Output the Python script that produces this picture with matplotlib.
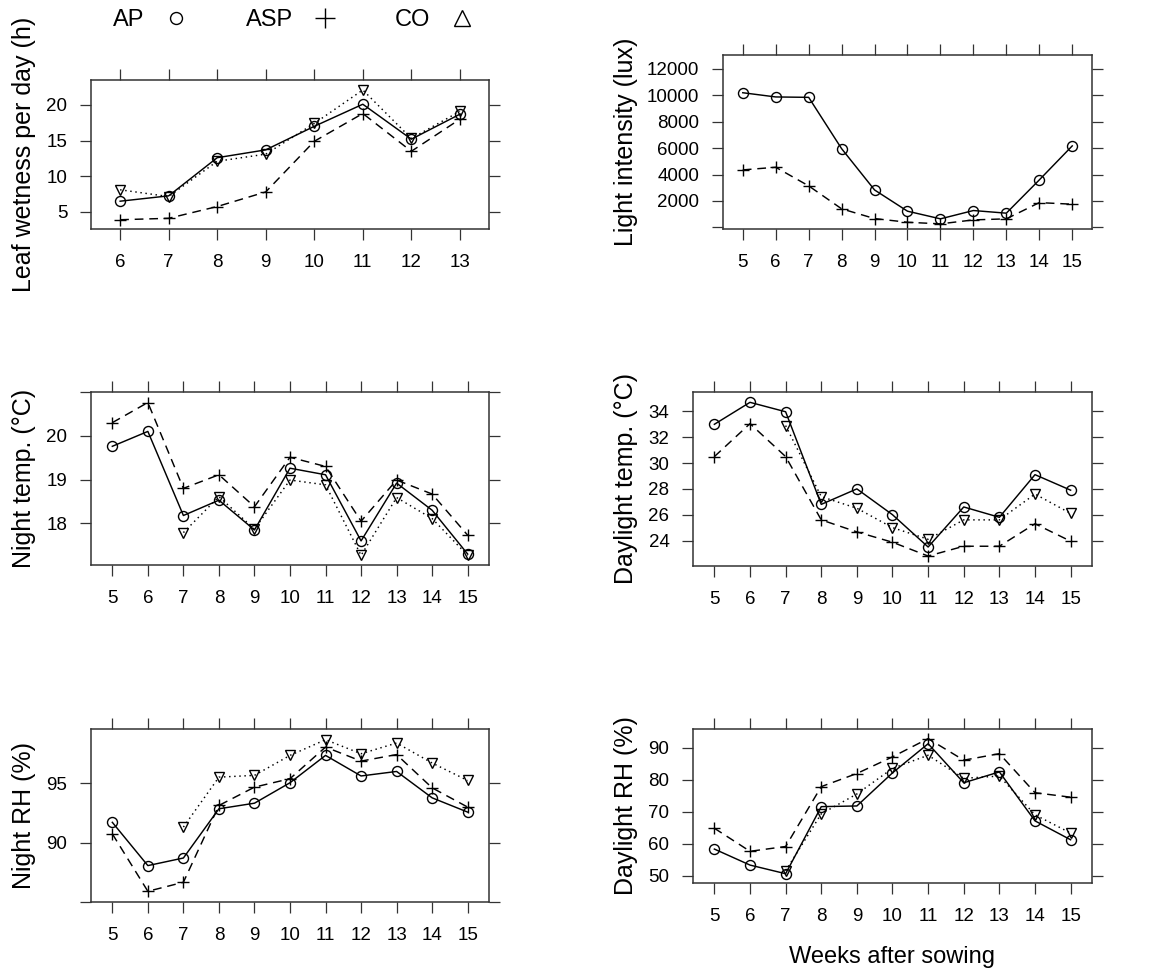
import matplotlib
matplotlib.use("Agg")
import matplotlib.pyplot as plt
from matplotlib.lines import Line2D

plt.rcParams["font.family"] = ["Liberation Sans", "DejaVu Sans"]

# ── Data ───────────────────────────────────────────────────
weeks_wet = [6, 7, 8, 9, 10, 11, 12, 13]
weeks = [5, 6, 7, 8, 9, 10, 11, 12, 13, 14, 15]
weeks_co = [7, 8, 9, 10, 11, 12, 13, 14, 15]

wet_ap = [6.5, 7.25, 12.6, 13.7, 17.0, 20.1, 15.2, 18.7]
wet_asp = [3.9, 4.1, 5.75, 7.8, 14.9, 18.8, 13.5, 18.0]
wet_co = [8.1, 7.15, 12.1, 13.1, 17.4, 22.1, 15.3, 19.1]

lux_ap = [10200, 9880, 9850, 5960, 2830, 1220, 640, 1270, 1070, 3590, 6170]
lux_asp = [4350, 4550, 3140, 1400, 660, 380, 260, 560, 640, 1870, 1750]

ntemp_ap = [19.76, 20.1, 18.18, 18.53, 17.85, 19.26, 19.11, 17.6, 18.92, 18.3, 17.3]
ntemp_asp = [20.3, 20.76, 18.8, 19.11, 18.38, 19.51, 19.3, 18.05, 18.99, 18.67, 17.73]
ntemp_co = [17.79, 18.61, 17.87, 18.99, 18.88, 17.27, 18.59, 18.11, 17.27]

dtemp_ap = [33.0, 34.7, 33.97, 26.8, 28.0, 26.0, 23.5, 26.6, 25.8, 29.1, 27.9]
dtemp_asp = [30.5, 33.05, 30.5, 25.6, 24.67, 23.87, 22.8, 23.56, 23.56, 25.3, 23.95]
dtemp_co = [32.9, 27.4, 26.5, 25.0, 24.1, 25.6, 25.6, 27.6, 26.1]

nrh_ap = [91.7, 88.06, 88.7, 92.84, 93.31, 95.03, 97.33, 95.6, 95.98, 93.76, 92.56]
nrh_asp = [90.73, 85.9, 86.66, 93.12, 94.66, 95.37, 98.03, 96.85, 97.4, 94.6, 92.98]
nrh_co = [91.3, 95.5, 95.65, 97.33, 98.65, 97.47, 98.37, 96.69, 95.22]

drh_ap = [58.3, 53.3, 50.6, 71.55, 71.76, 82.1, 91.2, 79.0, 82.4, 67.1, 61.2]
drh_asp = [64.8, 57.6, 59.1, 77.8, 81.9, 87.1, 92.8, 86.06, 88.1, 75.9, 74.5]
drh_co = [51.5, 69.3, 75.5, 83.5, 87.6, 80.4, 81.1, 69.0, 63.3]

labels = ["AP", "ASP", "CO"]
ylabels = ["Leaf wetness per day (h)", "Light intensity (lux)",
           "Night temp. (°C)", "Daylight temp. (°C)",
           "Night RH (%)", "Daylight RH (%)"]
xlabel = "Weeks after sowing"

wet_ticks = [5, 10, 15, 20]
lux_ticks = [0, 2000, 4000, 6000, 8000, 10000, 12000]
lux_ticklabels = ["", "2000", "4000", "6000", "8000", "10000", "12000"]
ntemp_ticks = [18, 19, 20, 21]
ntemp_ticklabels = ["18", "19", "20", ""]
dtemp_ticks = [24, 26, 28, 30, 32, 34]
nrh_ticks = [85, 90, 95]
nrh_ticklabels = ["", "90", "95"]
drh_ticks = [50, 60, 70, 80, 90]

# ── Styles ─────────────────────────────────────────────────
W, H = 1161, 972
STYLE = {
    "AP": dict(marker="o", linestyle="-", markersize=7.2),
    "ASP": dict(marker="+", linestyle=(0, (6, 4)), markersize=8.5),
    "CO": dict(marker="v", linestyle=(0, (1, 2.5)), markersize=7.8),
}
EDGE = "#333333"


def px_rect(x0, y0, x1, y1):
    return [x0 / W, 1 - y1 / H, (x1 - x0) / W, (y1 - y0) / H]


def panel(fig, rect, xlim, ylim, series, yticks, yticklabels, ylabel, label_x):
    ax = fig.add_axes(rect)
    for name, xs, ys in series:
        ax.plot(xs, ys, color="black", linewidth=1.05, markerfacecolor="none",
                markeredgecolor="black", markeredgewidth=1.0, **STYLE[name])
    ax.set_xlim(*xlim)
    ax.set_ylim(*ylim)
    xt = list(range(int(xlim[0]) + 1, int(xlim[1]) + 1))
    ax.set_xticks(xt)
    ax.set_xticklabels([str(t) for t in xt])
    ax.set_yticks(yticks)
    ax.set_yticklabels(yticklabels if yticklabels else [str(t) for t in yticks])
    ax.tick_params(direction="out", length=8, width=0.9, color=EDGE,
                   top=True, right=True, labeltop=False, labelright=False,
                   labelsize=13.5)
    ax.tick_params(axis="x", pad=10)
    ax.tick_params(axis="y", pad=9)
    for s in ax.spines.values():
        s.set_linewidth(1.1)
        s.set_edgecolor(EDGE)
    # label_x is the right edge (descender side) of the rotated label, in pixels
    ax.set_ylabel(ylabel, fontsize=18)
    ax.yaxis.set_label_coords((label_x - rect[0] * W) / (rect[2] * W), 0.5)
    return ax


fig = plt.figure(figsize=(W / 100, H / 100), dpi=100)

panel(fig, px_rect(91, 80, 489, 229), (5.4, 13.6), (2.6, 23.5),
      [("AP", weeks_wet, wet_ap), ("ASP", weeks_wet, wet_asp), ("CO", weeks_wet, wet_co)],
      wet_ticks, None, ylabels[0], 36)
panel(fig, px_rect(723, 55, 1092, 229), (4.4, 15.6), (-130, 13060),
      [("AP", weeks, lux_ap), ("ASP", weeks, lux_asp)],
      lux_ticks, lux_ticklabels, ylabels[1], 638)
panel(fig, px_rect(91, 392, 489, 565), (4.4, 15.6), (17.05, 21.0),
      [("AP", weeks, ntemp_ap), ("ASP", weeks, ntemp_asp), ("CO", weeks_co, ntemp_co)],
      ntemp_ticks, ntemp_ticklabels, ylabels[2], 36)
panel(fig, px_rect(693, 392, 1092, 566), (4.4, 15.6), (22.03, 35.5),
      [("AP", weeks, dtemp_ap), ("ASP", weeks, dtemp_asp), ("CO", weeks_co, dtemp_co)],
      dtemp_ticks, None, ylabels[3], 638)
panel(fig, px_rect(91, 729, 489, 902), (4.4, 15.6), (85.0, 99.55),
      [("AP", weeks, nrh_ap), ("ASP", weeks, nrh_asp), ("CO", weeks_co, nrh_co)],
      nrh_ticks, nrh_ticklabels, ylabels[4], 36)
panel(fig, px_rect(693, 729, 1092, 883), (4.4, 15.6), (47.7, 95.8),
      [("AP", weeks, drh_ap), ("ASP", weeks, drh_asp), ("CO", weeks_co, drh_co)],
      drh_ticks, None, ylabels[5], 638)

fig.text(892 / W, 1 - 957 / H, xlabel, fontsize=17, ha="center", va="center")

# Legend across the top
handles = [
    Line2D([], [], marker="o", linestyle="none", color="black", mfc="none", markersize=8.6),
    Line2D([], [], marker="+", linestyle="none", color="black", markersize=14),
    Line2D([], [], marker="^", linestyle="none", color="black", mfc="none", markersize=12),
]
fig.legend(handles, labels, ncol=3, loc="center", bbox_to_anchor=(293 / W, 1 - 20 / H),
           frameon=False, markerfirst=False, fontsize=17, handlelength=1.0,
           handletextpad=0.85, columnspacing=2.45, borderpad=0)

fig.savefig("out.png", dpi=100)
